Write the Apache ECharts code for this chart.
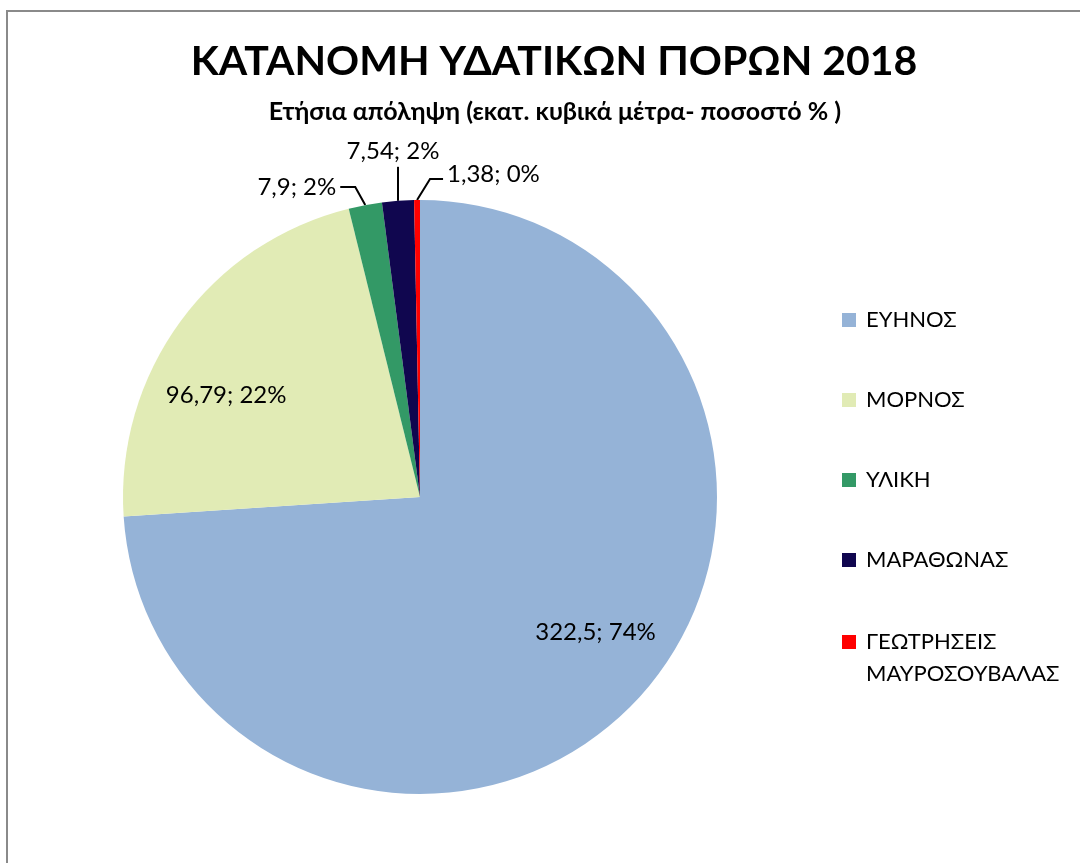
<!DOCTYPE html>
<html>
<head>
<meta charset="utf-8">
<script src="https://cdn.jsdelivr.net/npm/echarts@6/dist/echarts.min.js"></script>
<style>
html,body{margin:0;padding:0;background:#fff;}
#chart{width:1080px;height:863px;}
</style>
</head>
<body>
<div id="chart"></div>
<script>
const categories = ['ΕΥΗΝΟΣ', 'ΜΟΡΝΟΣ', 'ΥΛΙΚΗ', 'ΜΑΡΑΘΩΝΑΣ', 'ΓΕΩΤΡΗΣΕΙΣ ΜΑΥΡΟΣΟΥΒΑΛΑΣ'];
const values = [322.5, 96.79, 7.9, 7.54, 1.38];
const colors = ['#95B3D7', '#E1EBB5', '#339966', '#10064F', '#FF0000'];
const insideLabel = [true, true, false, false, false];

const FONT = 'Lato';
const total = values.reduce((a, b) => a + b, 0);
const fmt = v => String(v).replace('.', ',') + '; ' + Math.round(v / total * 100) + '%';

const chart = echarts.init(document.getElementById('chart'), null, {renderer: 'canvas'});

const baseData = categories.map((c, i) => ({name: c, value: values[i], itemStyle: {color: colors[i]}}));

// label tweaks (relative offsets, like Excel's label placement)
function outsideLayout(p) {
  const pts = p.labelLinePoints;
  if (!pts) return {hideOverlap: false};
  const e = pts[0];
  if (p.dataIndex === 2) {
    const p1 = [e[0] - 10, e[1] - 18], p2 = [p1[0] - 15, p1[1]];
    return {x: p2[0] - 4, y: p2[1], align: 'right', verticalAlign: 'middle',
      labelLinePoints: [e, p1, p2], hideOverlap: false};
  }
  if (p.dataIndex === 3) {
    const p1 = [e[0], e[1] - 34];
    return {x: e[0] - 5, y: p1[1] - 4, align: 'center', verticalAlign: 'bottom',
      labelLinePoints: [e, p1, p1], hideOverlap: false};
  }
  if (p.dataIndex === 4) {
    const p1 = [e[0] + 13, e[1] - 21], p2 = [p1[0] + 13, p1[1]];
    return {x: p2[0] + 4, y: p2[1] - 5, align: 'left', verticalAlign: 'middle',
      labelLinePoints: [e, p1, p2], hideOverlap: false};
  }
  return {hideOverlap: false};
}
function insideLayout(p) {
  if (p.dataIndex === 0) return {dx: 12, dy: -18, hideOverlap: false};
  if (p.dataIndex === 1) return {dx: -13, dy: 30, hideOverlap: false};
  return {hideOverlap: false};
}

const legendText = {fontFamily: FONT, fontSize: 22, color: '#000'};
const last = categories.length - 1;
const squareIcon = 'path://M0,0h10v10h-10z';

const option = {
  backgroundColor: '#fff',
  animation: false,
  graphic: [{
    type: 'rect', silent: true,
    shape: {x: 7, y: 11, width: 1200, height: 1000},
    style: {fill: 'none', stroke: '#8a8a8a', lineWidth: 2}
  }],
  title: [{
    text: 'ΚΑΤΑΝΟΜΗ ΥΔΑΤΙΚΩΝ ΠΟΡΩΝ 2018',
    left: 549, top: 36, textAlign: 'center',
    textStyle: {fontFamily: FONT, fontWeight: 'bold', fontSize: 41, color: '#000'}
  }, {
    text: 'Ετήσια απόληψη (εκατ. κυβικά μέτρα- ποσοστό % )',
    left: 550, top: 94, textAlign: 'center',
    textStyle: {fontFamily: FONT, fontWeight: 'bold', fontSize: 25, color: '#000'}
  }],
  legend: [{
    orient: 'vertical',
    left: 837, top: 302,
    itemWidth: 24, itemHeight: 14,
    itemGap: 54,
    icon: squareIcon,
    symbolKeepAspect: true,
    selectedMode: false,
    textStyle: Object.assign({lineHeight: 26}, legendText),
    data: categories.slice(0, last)
  }, {
    orient: 'vertical',
    left: 837, top: 589,
    itemWidth: 24, itemHeight: 14,
    icon: squareIcon,
    symbolKeepAspect: true,
    selectedMode: false,
    textStyle: Object.assign({lineHeight: 32}, legendText),
    formatter: n => '\n' + n.replace(' ', '\n'),
    data: [categories[last]]
  }],
  series: [{
    type: 'pie',
    center: [420, 497],
    radius: [0, 297],
    startAngle: 90,
    clockwise: true,
    avoidLabelOverlap: false,
    itemStyle: {borderWidth: 0},
    label: {
      show: true, position: 'outside',
      fontFamily: FONT, fontSize: 24, color: '#000',
      formatter: p => fmt(p.value)
    },
    labelLine: {show: true, length: 18, length2: 12, lineStyle: {color: '#000', width: 2}},
    labelLayout: outsideLayout,
    emphasis: {disabled: true},
    data: baseData.map((d, i) => insideLabel[i]
      ? Object.assign({}, d, {label: {show: false}, labelLine: {show: false}})
      : d)
  }, {
    type: 'pie',
    center: [420, 497],
    radius: [145, 297],
    startAngle: 90,
    clockwise: true,
    silent: true,
    legendHoverLink: false,
    itemStyle: {color: 'rgba(0,0,0,0)', borderWidth: 0},
    label: {
      show: true, position: 'inside',
      fontFamily: FONT, fontSize: 24, color: '#000',
      formatter: p => fmt(p.value)
    },
    labelLine: {show: false},
    labelLayout: insideLayout,
    emphasis: {disabled: true},
    data: categories.map((c, i) => ({
      name: c, value: values[i],
      itemStyle: {color: 'rgba(0,0,0,0)'},
      label: {show: insideLabel[i]}
    }))
  }]
};
chart.setOption(option);
</script>
</body>
</html>
